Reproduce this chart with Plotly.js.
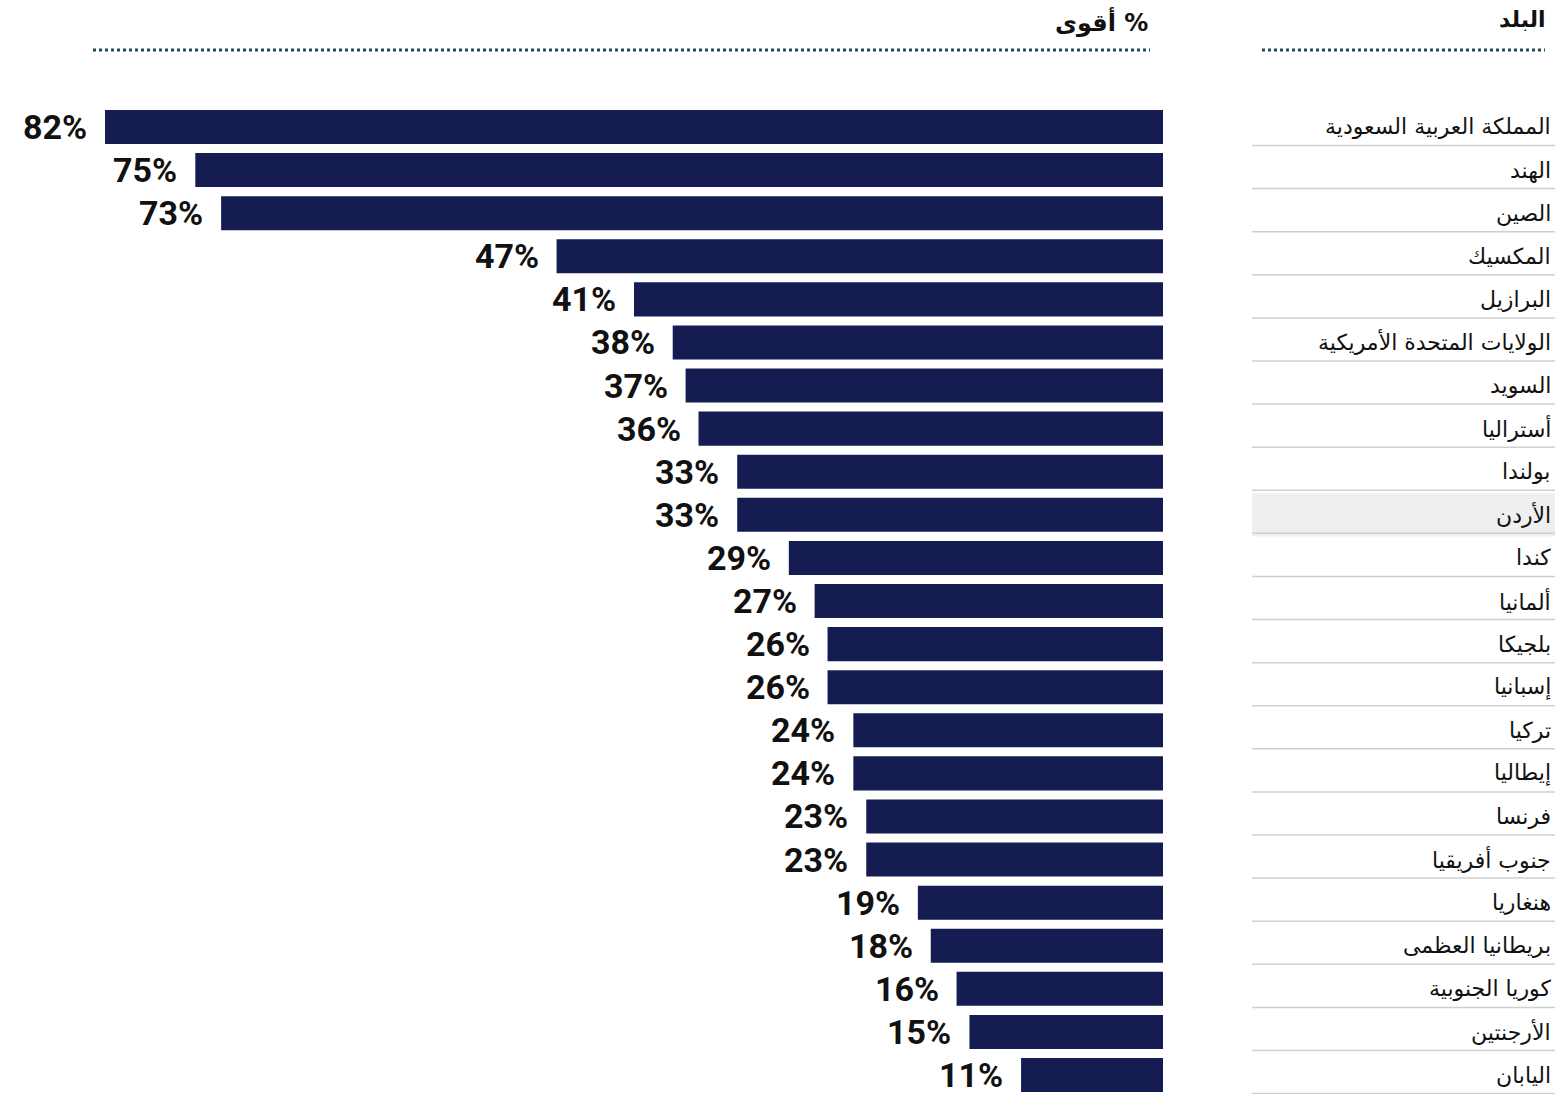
<!DOCTYPE html>
<html>
<head>
<meta charset="utf-8">
<script src="https://cdn.plot.ly/plotly-3.0.1.min.js"></script>
<style>body{margin:0;background:#fff}</style>
</head>
<body>
<div id="chart" style="width:1555px;height:1094px"></div>
<script>
var W = 1555, H = 1094;

var countries = ['المملكة العربية السعودية','الهند','الصين','المكسيك','البرازيل','الولايات المتحدة الأمريكية','السويد','أستراليا','بولندا','الأردن','كندا','ألمانيا','بلجيكا','إسبانيا','تركيا','إيطاليا','فرنسا','جنوب أفريقيا','هنغاريا','بريطانيا العظمى','كوريا الجنوبية','الأرجنتين','اليابان'];
var values = [82,75,73,47,41,38,37,36,33,33,29,27,26,26,24,24,23,23,19,18,16,15,11];
var highlight = 'الأردن';

var px = function (x) { return x / W; };
var py = function (y) { return 1 - y / H; };

var shapes = [];
var annotations = [];

countries.forEach(function (c, i) {
    if (c == highlight) {
        shapes.push({type: 'rect', xref: 'paper', yref: 'y', x0: px(1252), x1: 1, y0: i - 0.5, y1: i + 0.5,
            fillcolor: '#efefef', line: {width: 0}, layer: 'below'});
    }
    shapes.push({type: 'line', xref: 'paper', yref: 'y', x0: px(1252), x1: 1, y0: i + 0.43, y1: i + 0.43,
        line: {color: '#cfcfcf', width: 1.5}});
    annotations.push({xref: 'paper', yref: 'y', x: px(1553), y: i, text: c, showarrow: false,
        xanchor: 'right', yanchor: 'middle', font: {family: 'DejaVu Sans', size: 22, color: '#111'}});
    // value label left of the bar
    annotations.push({xref: 'x', yref: 'y', x: values[i], y: i, text: values[i] + '%', showarrow: false,
        xanchor: 'right', yanchor: 'middle', xshift: -16,
        font: {family: 'Roboto', size: 34, color: '#111', weight: 'bold'}});
});

// header lines
shapes.push({type: 'line', xref: 'paper', yref: 'paper', x0: px(1262), x1: px(1545), y0: py(50), y1: py(50),
    line: {color: '#1f4a5a', width: 3, dash: 'dot'}});
shapes.push({type: 'line', xref: 'paper', yref: 'paper', x0: px(93), x1: px(1150), y0: py(50), y1: py(50),
    line: {color: '#1f4a5a', width: 3, dash: 'dot'}});

annotations.push({xref: 'paper', yref: 'paper', x: px(1547), y: py(20), text: '<b>البلد</b>', showarrow: false,
    xanchor: 'right', yanchor: 'middle', font: {family: 'DejaVu Sans', size: 22, color: '#111'}});
annotations.push({xref: 'paper', yref: 'paper', x: px(1150), y: py(22), text: '<b>أقوى %</b>', showarrow: false,
    xanchor: 'right', yanchor: 'middle', font: {family: 'DejaVu Sans', size: 24, color: '#111'}});

var trace = {
    type: 'bar', orientation: 'h',
    x: values, y: countries,
    marker: {color: '#141c52'},
    width: 0.79,
    hoverinfo: 'none'
};

var layout = {
    width: W, height: H,
    margin: {l: 0, r: 0, t: 0, b: 0},
    paper_bgcolor: '#fff', plot_bgcolor: 'rgba(0,0,0,0)',
    showlegend: false,
    xaxis: {domain: [px(105), px(1163)], range: [82, 0], visible: false, fixedrange: true},
    yaxis: {type: 'category', categoryarray: countries, range: [22.44, -2.947], visible: false},
    shapes: shapes,
    annotations: annotations
};

Plotly.newPlot('chart', [trace], layout, {staticPlot: true});
</script>
</body>
</html>
